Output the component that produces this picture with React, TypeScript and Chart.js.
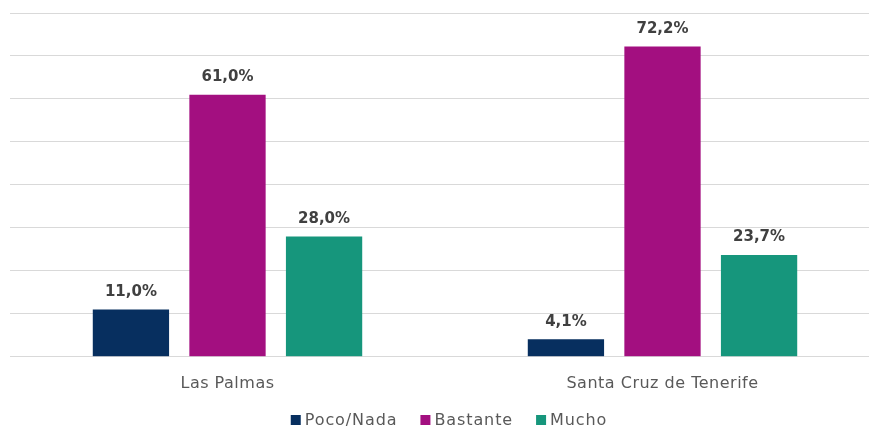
import React, { useEffect, useRef } from "react";
import { Chart, registerables } from "chart.js";

Chart.register(...registerables);

const categories = ["Las Palmas", "Santa Cruz de Tenerife"];
const seriesNames = ["Poco/Nada", "Bastante", "Mucho"];
const pocoNada = [11.0, 4.1];
const bastante = [61.0, 72.2];
const mucho = [28.0, 23.7];
const seriesColors = ["#072F5F", "#A30F80", "#16967C"];

const FONT = "'DejaVu Sans', sans-serif";

const spacing = {
  id: "spacing",
  beforeLayout(chart: any) {
    chart.ctx.letterSpacing = "0.5px";
  },
  beforeDraw(chart: any) {
    chart.ctx.letterSpacing = "0.5px";
  },
};

const valueLabels = {
  id: "valueLabels",
  afterDatasetsDraw(chart: any) {
    const ctx = chart.ctx;
    ctx.save();
    ctx.letterSpacing = "0px";
    ctx.font = `bold 15px ${FONT}`;
    ctx.fillStyle = "#404040";
    ctx.textAlign = "center";
    ctx.textBaseline = "bottom";
    chart.data.datasets.forEach((ds: any, i: number) => {
      const meta = chart.getDatasetMeta(i);
      meta.data.forEach((bar: any, j: number) => {
        const v = ds.data[j] as number;
        const txt = v.toFixed(1).replace(".", ",") + "%";
        ctx.fillText(txt, bar.x, bar.y - 10);
      });
    });
    ctx.restore();
  },
};

const customLegend = {
  id: "customLegend",
  afterDraw(chart: any) {
    const ctx = chart.ctx;
    ctx.save();
    ctx.letterSpacing = "0.9px";
    ctx.font = `16px ${FONT}`;
    ctx.textBaseline = "middle";
    ctx.textAlign = "left";
    const box = 10;
    const gapBox = 4;
    const gapItem = 23;
    const widths = chart.data.datasets.map((ds: any) => ctx.measureText(ds.label).width);
    const total =
      widths.reduce((a: number, w: number) => a + box + gapBox + w, 0) + gapItem * (widths.length - 1);
    const cx = (chart.chartArea.left + chart.chartArea.right) / 2 + 4;
    let x = cx - total / 2;
    const y = 420;
    chart.data.datasets.forEach((ds: any, i: number) => {
      ctx.fillStyle = ds.backgroundColor;
      ctx.fillRect(x, y - box / 2, box, box);
      x += box + gapBox;
      ctx.fillStyle = "#595959";
      ctx.fillText(ds.label, x, y + 1);
      x += widths[i] + gapItem;
    });
    ctx.restore();
  },
};

export default function App() {
  const ref = useRef<HTMLCanvasElement | null>(null);
  useEffect(() => {
    document.body.style.margin = "0";
    document.body.style.overflow = "hidden";
    const data = [pocoNada, bastante, mucho];
    const chart = new Chart(ref.current!, {
      type: "bar",
      data: {
        labels: categories,
        datasets: seriesNames.map((name, i) => ({
          label: name,
          data: data[i],
          backgroundColor: seriesColors[i],
          borderWidth: 0,
          categoryPercentage: 0.666,
          barPercentage: 0.79,
        })),
      },
      options: {
        animation: false,
        responsive: false,
        layout: { padding: { left: 10, right: 0, top: 13, bottom: 28 } },
        scales: {
          x: {
            grid: { display: false },
            border: { display: false },
            ticks: {
              color: "#595959",
              font: { family: FONT, size: 16 },
              padding: 9,
            },
          },
          y: {
            min: 0,
            max: 80,
            ticks: { display: false, stepSize: 10 },
            grid: { color: "#D9D9D9", lineWidth: 1, drawTicks: false },
            border: { display: false },
          },
        },
        plugins: {
          legend: { display: false },
          tooltip: { enabled: false },
        },
      },
      plugins: [spacing, valueLabels, customLegend],
    });
    return () => chart.destroy();
  }, []);
  return (
    <div style={{ position: "absolute", left: 0, top: 0, width: 869, height: 430, overflow: "hidden" }}>
      <canvas ref={ref} width={880} height={430} style={{ display: "block" }} />
    </div>
  );
}
